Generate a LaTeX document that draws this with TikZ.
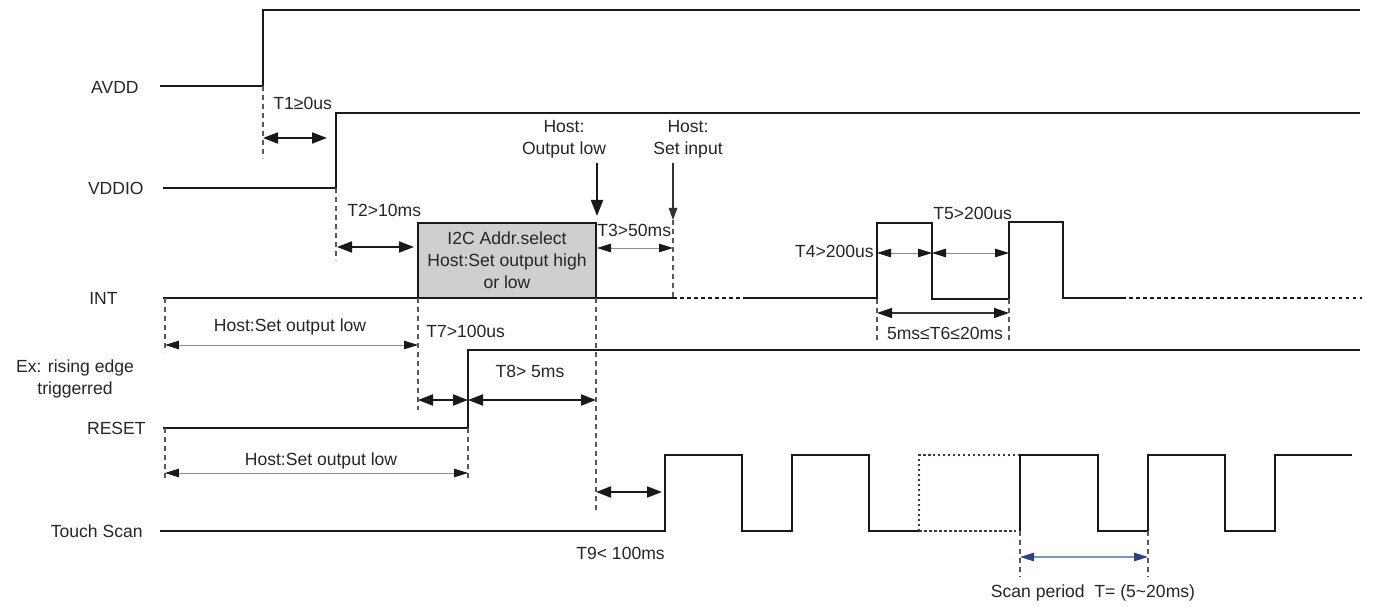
\documentclass[tikz,border=0pt]{standalone}
\usepackage{fontspec}
\setmainfont{Liberation Sans}
\usetikzlibrary{arrows.meta}
\begin{document}
\begin{tikzpicture}[x=0.02cm,y=-0.02cm,
  sig/.style={line width=1.1pt, line join=miter, draw=black!90},
  dotsig/.style={line width=1.2pt, draw=black!90, dash pattern=on 0.07cm off 0.07cm},
  guide/.style={draw=black!65, line width=0.6pt, dash pattern=on 0.1cm off 0.08cm},
  bigarr/.style={line width=1.1pt, draw=black!90, {Triangle[length=0.3cm,width=0.22cm]}-{Triangle[length=0.3cm,width=0.22cm]}},
  thinarr/.style={line width=0.5pt, draw=black!45, {Triangle[length=0.28cm,width=0.17cm,color=black!90]}-{Triangle[length=0.28cm,width=0.17cm,color=black!90]}},
  midarr/.style={line width=0.8pt, draw=black!80, {Triangle[length=0.3cm,width=0.2cm,color=black!90]}-{Triangle[length=0.3cm,width=0.2cm,color=black!90]}},
  bluearr/.style={line width=0.7pt, draw={rgb,255:red,125;green,150;blue,195}, {Triangle[length=0.28cm,width=0.17cm,color={rgb,255:red,40;green,70;blue,130}]}-{Triangle[length=0.28cm,width=0.17cm,color={rgb,255:red,40;green,70;blue,130}]}},
  lbl/.style={font=\fontsize{10}{12.5}\selectfont, inner sep=0pt, text=black!85, align=center},
  boxstyle/.style={draw=black!90, line width=1.1pt, fill=black!19}
]
\useasboundingbox (0,0) rectangle (1382,607);

% ---------- signal names ----------
\node[lbl, anchor=east] (nAVDD) at (139,87) {AVDD};
\node[lbl, anchor=east] (nVDDIO) at (144,188) {VDDIO};
\node[lbl, anchor=east] (nINT) at (118,298) {INT};
\node[lbl] (nEx) at (75,379) {Ex: rising edge\\triggerred};
\node[lbl, anchor=east] (nRESET) at (146,428) {RESET};
\node[lbl, anchor=east] (nTS) at (143,531) {Touch Scan};

% ---------- AVDD ----------
\draw[sig] (160,86) -- (263,86) -- (263,10) -- (1360,10);
% ---------- VDDIO ----------
\draw[sig] (163,188) -- (336,188) -- (336,113) -- (1360,113);
% ---------- INT ----------
\draw[sig] (163,298) -- (418,298);
\node[boxstyle, minimum width=178*0.02cm, minimum height=75*0.02cm, inner sep=0pt] (box) at (507,260.5) {};
\node[lbl] (boxtxt) at (507,260) {I2C Addr.select\\Host:Set output high\\or low};
\draw[sig] (596,298) -- (673,298);
\draw[dotsig] (673,298) -- (747,298);
\draw[sig] (745,298) -- (877,298) -- (877,223) -- (932,223) -- (932,299) -- (1009,299) -- (1009,222) -- (1063,222) -- (1063,298) -- (1122,298);
\draw[dotsig] (1122,298) -- (1362,298);
% ---------- RESET ----------
\draw[sig] (163,428) -- (468,428) -- (468,350) -- (1360,350);
% ---------- Touch Scan ----------
\draw[sig] (160,531) -- (665,531) -- (665,455) -- (742,455) -- (742,531) -- (792,531) -- (792,455) -- (869,455) -- (869,531) -- (919,531);
\draw[line width=1.3pt, draw={rgb,255:red,45;green,60;blue,100}, dash pattern=on 0.05cm off 0.05cm]
  (919,531) -- (919,455) -- (1020,455) (919,531) -- (1020,531);
\draw[sig] (1020,531) -- (1020,455) -- (1098,455) -- (1098,531) -- (1148,531) -- (1148,455) -- (1225,455) -- (1225,531) -- (1275,531) -- (1275,455) -- (1352,455);

% ---------- named timing coordinates ----------
\coordinate (a1) at (263,138); \coordinate (b1) at (327,138);
\coordinate (a2) at (337,247); \coordinate (b2) at (414,247);
\coordinate (a3) at (597,248); \coordinate (b3) at (673,248);
\coordinate (a4) at (877,253); \coordinate (b4) at (932,253); \coordinate (c4) at (1009,253);
\coordinate (a6) at (877,313); \coordinate (b6) at (1009,313);
\coordinate (h1a) at (165,345); \coordinate (h1b) at (418,345);
\coordinate (a7) at (418,400); \coordinate (b7) at (468,400); \coordinate (c7) at (596,400);
\coordinate (h2a) at (165,473); \coordinate (h2b) at (468,473);
\coordinate (a9) at (596,492); \coordinate (b9) at (662,492);
\coordinate (sa) at (1020,557); \coordinate (sb) at (1148,557);
\coordinate (ol0) at (597,163); \coordinate (ol1) at (597,216);
\coordinate (si0) at (673,163); \coordinate (si1) at (673,220);

% ---------- guide lines ----------
\draw[guide] (263,86) -- (263,158);
\draw[guide] (336,188) -- (336,260);
\draw[guide] (165,298) -- (165,352);
\draw[guide] (418,298) -- (418,410);
\draw[guide] (596,298) -- (596,512);
\draw[guide] (si1) -- (673,298);
\draw[guide] (165,428) -- (165,480);
\draw[guide] (468,428) -- (468,480);
\draw[guide] (877,299) -- (877,341);
\draw[guide] (1009,299) -- (1009,341);
\draw[guide] (1020,531) -- (1020,577);
\draw[guide] (1148,531) -- (1148,577);

% ---------- dimension arrows ----------
\draw[bigarr] (a1) -- (b1);
\draw[bigarr] (a2) -- (b2);
\draw[thinarr] (a3) -- (b3);
\draw[thinarr] (a4) -- (b4);
\draw[thinarr] (b4) -- (c4);
\draw[midarr] (a6) -- (b6);
\draw[thinarr] (h1a) -- (h1b);
\draw[bigarr] (a7) -- (b7);
\draw[bigarr] (b7) -- (c7);
\draw[thinarr] (h2a) -- (h2b);
\draw[bigarr] (a9) -- (b9);
\draw[bluearr] (sa) -- (sb);
\draw[line width=1.1pt, draw=black!90, -{Triangle[length=0.32cm,width=0.24cm]}] (ol0) -- (ol1);
\draw[line width=0.7pt, draw=black!80, -{Triangle[length=0.24cm,width=0.17cm]}] (si0) -- (si1);

% ---------- labels ----------
\node[lbl, anchor=west] (lT1) at (273,103) {T1≥0us};
\node[lbl, anchor=west] (lT2) at (347,210) {T2>10ms};
\node[lbl, anchor=west] (lT3) at (597,230) {T3>50ms};
\node[lbl, anchor=east] (lT4) at (874,251) {T4>200us};
\node[lbl, anchor=west] (lT5) at (933,213) {T5>200us};
\node[lbl] (lT6) at (945,333) {5ms≤T6≤20ms};
\node[lbl, anchor=west] (lT7) at (426,331) {T7>100us};
\node[lbl] (lT8) at (530,371) {T8> 5ms};
\node[lbl, anchor=west] (lT9) at (576,553) {T9< 100ms};
\node[lbl] (lScan) at (1093,593) {Scan period\ \ T= (5\textasciitilde20ms)};
\node[lbl] (lH1) at (290,327) {Host:Set output low};
\node[lbl] (lH2) at (321,461) {Host:Set output low};
\node[lbl] (lOL) at (564,139) {Host:\\Output low};
\node[lbl] (lSI) at (688,139) {Host:\\Set input};
\end{tikzpicture}
\end{document}
